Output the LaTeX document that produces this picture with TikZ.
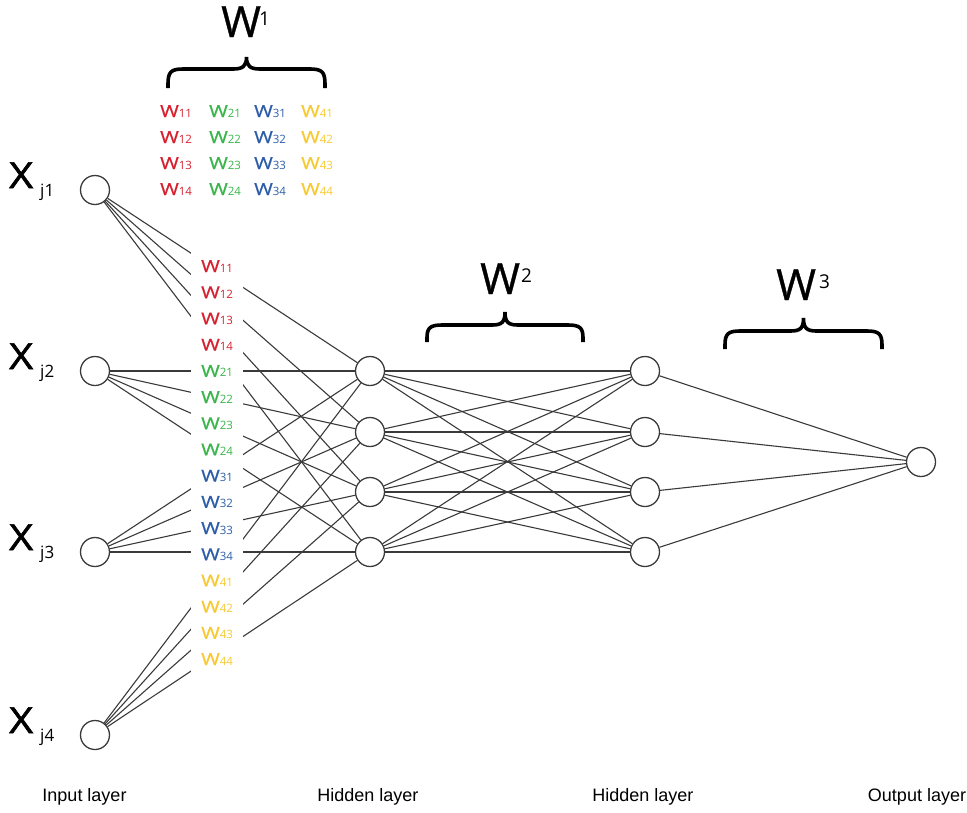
\documentclass[tikz,border=0pt]{standalone}
\usepackage{fontspec}
\usepackage{graphicx}
\setmainfont{Open Sans}
\newfontfamily\layerfont{Liberation Sans}
\newfontfamily\wfont[FakeBold=0.8]{Open Sans}
\newfontfamily\xfont[FakeBold=1.6]{Open Sans}

\definecolor{ink}{HTML}{3A3A3A}
\definecolor{wred}{HTML}{D6202F}
\definecolor{wgreen}{HTML}{39B54A}
\definecolor{wblue}{HTML}{2D5DA8}
\definecolor{wyellow}{HTML}{F7C932}

% weight label: wide W followed by small index digits on the same baseline
\newcommand\wl[2]{{\wfont\scalebox{1.22}[1]{W}}{\fontsize{11.5}{11.5}\selectfont #1#2}}

\begin{document}
\begin{tikzpicture}[x=1pt,y=-1pt,
  neuron/.style={circle, draw=ink, line width=1.3pt, fill=white, minimum size=29pt, inner sep=0pt},
  conn/.style={draw=ink, line width=1.1pt},
  wlabel/.style={anchor=base west, inner sep=0pt, font=\fontsize{16.5}{16.5}\selectfont},
  bigw/.style={anchor=base west, inner sep=0pt, font=\wfont\fontsize{43}{43}\selectfont},
  supw/.style={anchor=base west, inner sep=0pt, font=\fontsize{19}{19}\selectfont},
  xlab/.style={anchor=base west, inner sep=0pt, font=\xfont\fontsize{36}{36}\selectfont},
  xsub/.style={anchor=base west, inner sep=0pt, font=\fontsize{17}{17}\selectfont},
  layerlab/.style={anchor=base, inner sep=0pt, font=\layerfont\fontsize{18}{18}\selectfont},
  bracestroke/.style={draw=black, line width=3.6pt, line cap=butt, line join=miter}
]
\useasboundingbox (0,0) rectangle (967,812);

% neurons
\foreach \n/\y in {1/190,2/371,3/552,4/735}
  \node[neuron] (i\n) at (95,\y) {};
\foreach \n/\y in {1/371,2/432,3/492,4/552}{
  \node[neuron] (h\n) at (370,\y) {};
  \node[neuron] (g\n) at (645,\y) {};
}
\node[neuron] (o) at (921,462) {};

% input -> first hidden layer
\foreach \a in {1,...,4}
  \foreach \b in {1,...,4}
    \draw[conn] (i\a) -- (h\b);

% gap in the input connections where the weight names sit
\fill[white] (191,240) rectangle (243,680);

% first hidden -> second hidden layer
\foreach \a in {1,...,4}
  \foreach \b in {1,...,4}
    \draw[conn] (h\a) -- (g\b);

% second hidden -> output
\foreach \a in {1,...,4}
  \draw[conn] (g\a) -- (o);

% weight names in the column between input and hidden layer
\foreach \i/\c in {1/wred,2/wgreen,3/wblue,4/wyellow}
  \foreach \j in {1,...,4}{
    \pgfmathsetmacro\yy{272+26.2*(4*(\i-1)+\j-1)}
    \node[wlabel, text=\c] (c\i\j) at (201,\yy) {\wl{\i}{\j}};
  }

% weight matrix W1
\foreach \i/\c/\xx in {1/wred/160,2/wgreen/209,3/wblue/254,4/wyellow/301}
  \foreach \j in {1,...,4}{
    \pgfmathsetmacro\yy{117+26*(\j-1)}
    \node[wlabel, text=\c] (m\i\j) at (\xx,\yy) {\wl{\i}{\j}};
  }

% input names
\foreach \n/\y in {1/190,2/371,3/552,4/735}{
  \node[xlab] (x\n) at (9,\y-2) {\scalebox{1.15}[1]{X}};
  \node[xsub] (xs\n) at (40,\y+6) {j\n};
}

% braces
\draw[bracestroke] (168,88) -- (168,84) .. controls (168,72) and (171,69) .. (183,69)
  -- (233,69) .. controls (243,69) and (246.5,66) .. (246.5,57)
  .. controls (246.5,66) and (250,69) .. (260,69)
  -- (310,69) .. controls (322,69) and (325,72) .. (325,84) -- (325,88);
\draw[bracestroke] (427,342) -- (427,338) .. controls (427,328) and (430,325) .. (442,325)
  -- (492,325) .. controls (502,325) and (505,322) .. (505,312)
  .. controls (505,322) and (508,325) .. (518,325)
  -- (568,325) .. controls (580,325) and (583,328) .. (583,338) -- (583,342);
\draw[bracestroke] (725,349) -- (725,345) .. controls (725,334) and (728,331) .. (740,331)
  -- (790.5,331) .. controls (800.5,331) and (803.5,328) .. (803.5,318)
  .. controls (803.5,328) and (806.5,331) .. (816.5,331)
  -- (867,331) .. controls (879,331) and (882,334) .. (882,345) -- (882,349);

% weight matrix names
\node[bigw] (w1) at (221,37) {W};
\node[supw] (w1s) at (259,25) {1};
\node[bigw] (w2) at (480,294) {W};
\node[supw] (w2s) at (521,282) {2};
\node[bigw] (w3) at (776,300) {W};
\node[supw] (w3s) at (819,288) {3};

% layer names
\node[layerlab] (l1) at (84.5,801) {Input layer};
\node[layerlab] (l2) at (368,801) {Hidden layer};
\node[layerlab] (l3) at (643,801) {Hidden layer};
\node[layerlab] (l4) at (917,801) {Output layer};
\end{tikzpicture}
\end{document}
